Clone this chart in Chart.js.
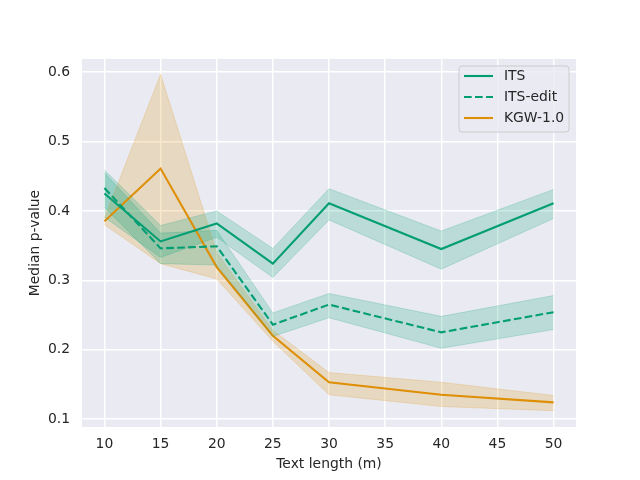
<!DOCTYPE html>
<html>
<head>
<meta charset="utf-8">
<script src="https://cdn.jsdelivr.net/npm/chart.js@4.4.0/dist/chart.umd.min.js"></script>
<style>
  html, body { margin: 0; padding: 0; background: #fff; }
  #wrap { width: 640px; height: 480px; }
</style>
</head>
<body>
<div id="wrap"><canvas id="myChart"></canvas></div>
<script>
// Text lengths (x) and tick labels
var lengths = [10, 15, 20, 25, 30, 40, 50];
var xTicks = [10, 15, 20, 25, 30, 35, 40, 45, 50];
var yTicks = [0.1, 0.2, 0.3, 0.4, 0.5, 0.6];

// Median p-values and their bands
var its      = [0.425, 0.356, 0.382, 0.324, 0.411, 0.345, 0.411];
var itsLo    = [0.391, 0.333, 0.362, 0.304, 0.387, 0.316, 0.389];
var itsHi    = [0.459, 0.379, 0.400, 0.346, 0.432, 0.371, 0.431];

var itsEdit   = [0.433, 0.346, 0.349, 0.236, 0.265, 0.225, 0.254];
var itsEditLo = [0.405, 0.324, 0.322, 0.219, 0.246, 0.202, 0.229];
var itsEditHi = [0.455, 0.368, 0.372, 0.253, 0.281, 0.248, 0.278];

var kgw   = [0.385, 0.461, 0.319, 0.220, 0.153, 0.135, 0.124];
var kgwLo = [0.380, 0.324, 0.302, 0.212, 0.135, 0.118, 0.112];
var kgwHi = [0.390, 0.597, 0.340, 0.228, 0.167, 0.153, 0.134];

var GREEN = '#029e73';
var ORANGE = '#de8f05';
var GREEN_BAND = 'rgba(2,158,115,0.2)';
var ORANGE_BAND = 'rgba(222,143,5,0.2)';
var FONT = "'DejaVu Sans', sans-serif";

function pts(ys) {
  return lengths.map(function(x, i) { return {x: x, y: ys[i]}; });
}

function band(lo, hi, color, idx) {
  return [
    {label: '_lo', data: pts(lo), borderColor: color, borderWidth: 1,
     pointRadius: 0, fill: false, tension: 0},
    {label: '_hi', data: pts(hi), borderColor: color, borderWidth: 1,
     pointRadius: 0, backgroundColor: color, fill: idx, tension: 0}
  ];
}

function line(label, ys, color, dash) {
  return {label: label, data: pts(ys), borderColor: color, borderWidth: 2.1,
          borderDash: dash || [], pointRadius: 0, fill: false, tension: 0};
}

var datasets = [].concat(
  band(itsLo, itsHi, GREEN_BAND, 0),
  band(itsEditLo, itsEditHi, GREEN_BAND, 2),
  band(kgwLo, kgwHi, ORANGE_BAND, 4),
  [line('ITS', its, GREEN),
   line('ITS-edit', itsEdit, GREEN, [7.7, 3.3]),
   line('KGW-1.0', kgw, ORANGE)]
);

// grey plot background, seaborn darkgrid style
var bgPlugin = {
  id: 'bg',
  beforeDraw: function(chart) {
    var a = chart.chartArea, ctx = chart.ctx;
    ctx.save();
    ctx.fillStyle = '#eaeaf2';
    ctx.fillRect(a.left, a.top, a.right - a.left, a.bottom - a.top);
    ctx.restore();
  }
};

// legend box inside the upper right corner
var legendPlugin = {
  id: 'boxLegend',
  afterDraw: function(chart) {
    var a = chart.chartArea, ctx = chart.ctx;
    var items = chart.data.datasets.filter(function(d) { return d.label[0] != '_'; });
    var w = 110, h = 66, x0 = a.right - 7 - w, y0 = a.top + 7;
    ctx.save();
    ctx.beginPath();
    ctx.roundRect(x0, y0, w, h, 3);
    ctx.fillStyle = 'rgba(234,234,242,0.8)';
    ctx.fill();
    ctx.strokeStyle = '#cccccc';
    ctx.lineWidth = 1;
    ctx.stroke();
    ctx.font = '13.9px ' + FONT;
    ctx.textBaseline = 'middle';
    items.forEach(function(d, i) {
      var y = y0 + 10 + i * 21;
      ctx.beginPath();
      ctx.setLineDash(d.borderDash);
      ctx.strokeStyle = d.borderColor;
      ctx.lineWidth = d.borderWidth;
      ctx.moveTo(x0 + 5, y);
      ctx.lineTo(x0 + 34, y);
      ctx.stroke();
      ctx.setLineDash([]);
      ctx.fillStyle = '#262626';
      ctx.fillText(d.label, x0 + 45, y);
    });
    ctx.restore();
  }
};

var ctx = 'myChart';
var myChart = new Chart(ctx, {
  type: 'line',
  data: {datasets: datasets},
  plugins: [bgPlugin, legendPlugin],
  options: {
    responsive: true,
    maintainAspectRatio: false,
    animation: false,
    layout: {padding: {top: 59, right: 64, left: 0, bottom: 0}},
    plugins: {
      legend: {display: false},
      tooltip: {enabled: false},
      filler: {drawTime: 'beforeDatasetsDraw'}
    },
    scales: {
      x: {
        type: 'linear', min: 8, max: 52,
        afterBuildTicks: function(s) { s.ticks = xTicks.map(function(v) { return {value: v}; }); },
        afterFit: function(s) { s.height = 53; },
        grid: {color: '#ffffff', lineWidth: 1.4, drawTicks: false},
        border: {display: false},
        ticks: {color: '#262626', font: {family: FONT, size: 13.9}, padding: 9,
                maxRotation: 0, autoSkip: false},
        title: {display: true, text: 'Text length (m)', color: '#262626',
                font: {family: FONT, size: 13.9}, padding: {top: 2, bottom: 7}}
      },
      y: {
        type: 'linear', min: 0.0885, max: 0.619,
        afterBuildTicks: function(s) { s.ticks = yTicks.map(function(v) { return {value: v}; }); },
        afterFit: function(s) { s.width = 82; },
        grid: {color: '#ffffff', lineWidth: 1.4, drawTicks: false},
        border: {display: false},
        ticks: {color: '#262626', font: {family: FONT, size: 13.9}, padding: 12,
                callback: function(v) { return v.toFixed(1); }},
        title: {display: true, text: 'Median p-value', color: '#262626',
                font: {family: FONT, size: 13.9}, padding: {top: 27, bottom: 4}}
      }
    }
  }
});
</script>
</body>
</html>
